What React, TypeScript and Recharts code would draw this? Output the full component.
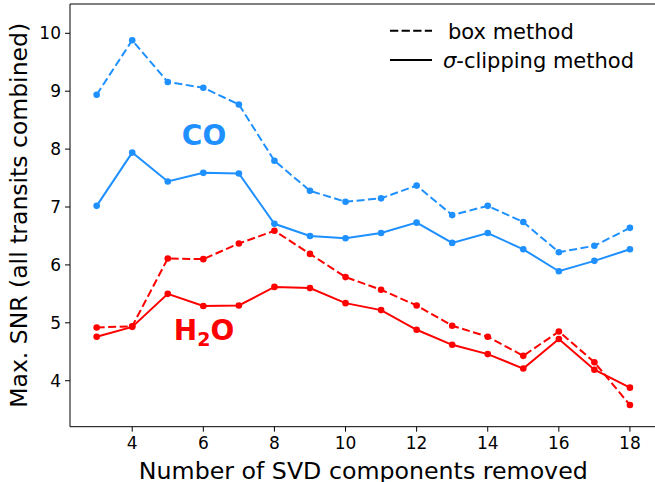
import { LineChart, Line, XAxis, YAxis, ReferenceLine, ReferenceDot, Legend } from 'recharts';

// number of SVD components removed
const components = [3, 4, 5, 6, 7, 8, 9, 10, 11, 12, 13, 14, 15, 16, 17, 18];

// CO, box method (dashed) and sigma-clipping method (solid)
const coBox = [8.94, 9.88, 9.16, 9.06, 8.77, 7.8, 7.28, 7.09, 7.15, 7.37, 6.86, 7.02, 6.74, 6.22, 6.33, 6.64];
const coClip = [7.02, 7.94, 7.44, 7.59, 7.58, 6.71, 6.5, 6.46, 6.55, 6.73, 6.38, 6.55, 6.27, 5.89, 6.07, 6.27];

// H2O, box method (dashed) and sigma-clipping method (solid)
const h2oBox = [4.92, 4.94, 6.11, 6.1, 6.37, 6.59, 6.19, 5.79, 5.57, 5.3, 4.95, 4.76, 4.43, 4.85, 4.32, 3.58];
const h2oClip = [4.76, 4.93, 5.5, 5.29, 5.3, 5.62, 5.6, 5.34, 5.22, 4.88, 4.62, 4.46, 4.21, 4.72, 4.19, 3.88];

const xTicks = [4, 6, 8, 10, 12, 14, 16, 18];
const yTicks = [4, 5, 6, 7, 8, 9, 10];

const X_MIN = 2.25;
const X_MAX = 18.75;
const Y_MIN = 3.206;
const Y_MAX = 10.506;

const BLUE = '#1e90ff';
const RED = '#ff0000';
const FONT = '"DejaVu Sans", sans-serif';

const data = components.map((n, i) => ({
  n,
  coBox: coBox[i],
  coClip: coClip[i],
  h2oBox: h2oBox[i],
  h2oClip: h2oClip[i],
}));

const tickStyle = { fill: '#000', fontSize: 17, fontFamily: FONT };

function MethodLegend() {
  return (
    <svg width={280} height={80} style={{ display: 'block' }}>
      <line x1={5} y1={15.7} x2={47} y2={15.7} stroke="#000" strokeWidth={2} strokeDasharray="8.3 3.3" />
      <text x={63} y={23.5} fontSize={21} fontFamily={FONT} fill="#000">box method</text>
      <line x1={5} y1={45} x2={47} y2={45} stroke="#000" strokeWidth={2} />
      <text x={58} y={53} fontSize={21} fontFamily={FONT} fill="#000">
        <tspan fontStyle="italic">σ</tspan>-clipping method
      </text>
    </svg>
  );
}

export default function App() {
  return (
    <div style={{ position: 'fixed', left: 0, top: 0, width: 655, height: 482, overflow: 'hidden', background: '#fff' }}>
      <LineChart width={660} height={482} data={data} margin={{ top: 4, right: 3.4, bottom: 0, left: 0 }}>
        <XAxis
          dataKey="n"
          type="number"
          domain={[X_MIN, X_MAX]}
          ticks={xTicks}
          allowDataOverflow
          height={55.3}
          tickSize={5}
          tickMargin={5}
          tick={tickStyle}
          axisLine={{ stroke: '#000', strokeWidth: 1 }}
          tickLine={{ stroke: '#000' }}
          label={{
            value: 'Number of SVD components removed',
            position: 'insideBottom',
            offset: 3,
            style: { fontSize: 23.7, fill: '#000', fontFamily: FONT },
          }}
        />
        <YAxis
          type="number"
          domain={[Y_MIN, Y_MAX]}
          ticks={yTicks}
          allowDataOverflow
          width={70}
          tickSize={5}
          tickMargin={4}
          tick={tickStyle}
          axisLine={{ stroke: '#000', strokeWidth: 1 }}
          tickLine={{ stroke: '#000' }}
          label={{
            value: 'Max. SNR (all transits combined)',
            angle: -90,
            position: 'insideLeft',
            offset: 19,
            style: { textAnchor: 'middle', fontSize: 23.5, fill: '#000', fontFamily: FONT },
          }}
        />
        <ReferenceLine y={Y_MAX} stroke="#000" strokeWidth={1} />
        <Line
          dataKey="coBox"
          stroke={BLUE}
          strokeWidth={2}
          strokeDasharray="8 3.5"
          dot={{ r: 3.3, fill: BLUE, stroke: BLUE, strokeWidth: 0, strokeDasharray: '' }}
          activeDot={false}
          isAnimationActive={false}
        />
        <Line
          dataKey="coClip"
          stroke={BLUE}
          strokeWidth={2}
          dot={{ r: 3.3, fill: BLUE, stroke: BLUE, strokeWidth: 0 }}
          activeDot={false}
          isAnimationActive={false}
        />
        <Line
          dataKey="h2oBox"
          stroke={RED}
          strokeWidth={2}
          strokeDasharray="8 3.5"
          dot={{ r: 3.3, fill: RED, stroke: RED, strokeWidth: 0, strokeDasharray: '' }}
          activeDot={false}
          isAnimationActive={false}
        />
        <Line
          dataKey="h2oClip"
          stroke={RED}
          strokeWidth={2}
          dot={{ r: 3.3, fill: RED, stroke: RED, strokeWidth: 0 }}
          activeDot={false}
          isAnimationActive={false}
        />
        <ReferenceDot
          x={6.02}
          y={8.07}
          r={1}
          shape={(p: any) => (
            <text x={p.cx} y={p.cy} textAnchor="middle" fontSize={28} fontWeight="bold" fontFamily={FONT} fill={BLUE}>
              CO
            </text>
          )}
        />
        <ReferenceDot
          x={6.02}
          y={4.7}
          r={1}
          shape={(p: any) => (
            <text x={p.cx} y={p.cy} textAnchor="middle" fontSize={28} fontWeight="bold" fontFamily={FONT} fill={RED}>
              H<tspan fontSize={19} dy={6}>2</tspan>
              <tspan dy={-6}>O</tspan>
            </text>
          )}
        />
        <Legend
          layout="horizontal"
          verticalAlign="middle"
          wrapperStyle={{ top: 15, left: 385, width: 280, height: 80 }}
          content={() => <MethodLegend />}
        />
      </LineChart>
    </div>
  );
}
